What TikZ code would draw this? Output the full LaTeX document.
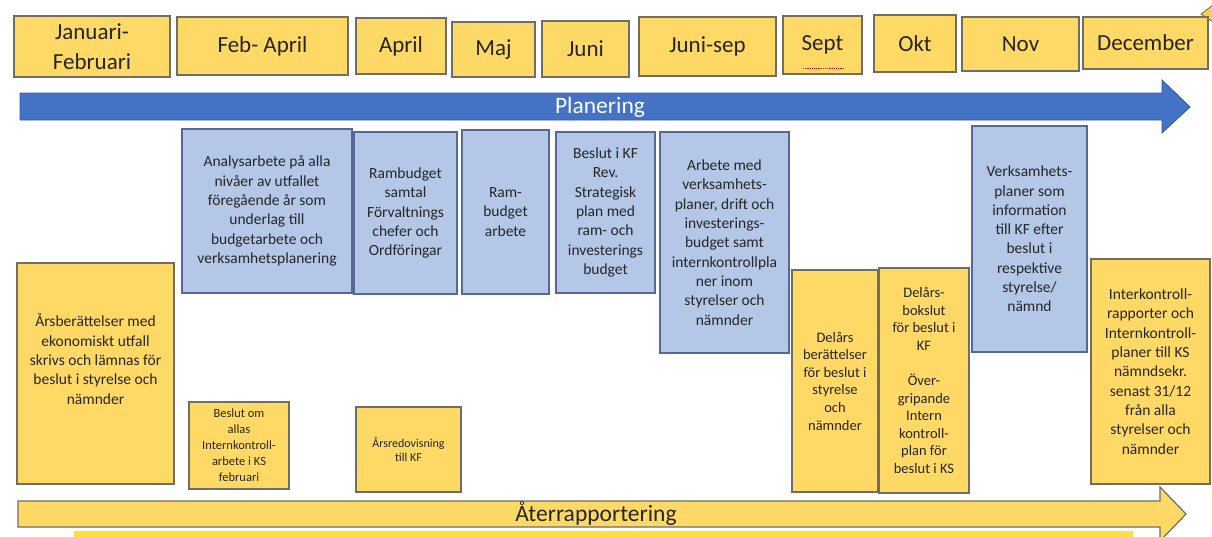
\documentclass[tikz,border=0pt]{standalone}
\usepackage{fontspec}
\setmainfont{Carlito}
\definecolor{gold}{HTML}{FFD966}
\definecolor{ybord}{HTML}{6E6E66}
\definecolor{lblue}{HTML}{B4C7E7}
\definecolor{bbord}{HTML}{52699A}
\definecolor{pblue}{HTML}{4472C4}
\definecolor{txt}{HTML}{262626}
\definecolor{stripy}{HTML}{FFE040}
\begin{document}
\begin{tikzpicture}[x=1pt,y=-1pt,
  box/.style={draw, line width=1.5pt, align=center, inner sep=2pt, text=txt},
  mbox/.style={box, fill=gold, draw=ybord, font=\fontsize{23}{30}\selectfont},
  bbox/.style={box, fill=lblue, draw=bbord, font=\fontsize{15.5}{19.3}\selectfont},
  ybox/.style={box, fill=gold, draw=ybord, font=\fontsize{15.5}{19.3}\selectfont},
  ysmall/.style={box, fill=gold, draw=ybord, font=\fontsize{14.5}{17.6}\selectfont},
  arrowtext/.style={inner sep=0pt, font=\fontsize{23.5}{28}\selectfont}
]
\useasboundingbox (0,0) rectangle (1212,536);
\fill[white] (0,0) rectangle (1212,536);
\clip (0,0) rectangle (1212,536);

% top-right corner mark
\filldraw[fill=gold!85!orange, draw=ybord, line width=0.8pt] (1201,14) -- (1213,5) -- (1213,22) -- cycle;

% month boxes
\node[mbox, minimum width=156pt, minimum height=61pt] (jan) at (92,46.5) {Januari-\\Februari};
\node[mbox, minimum width=171pt, minimum height=58pt] (feb) at (262.5,46) {Feb- April};
\node[mbox, minimum width=90pt, minimum height=56pt] (apr) at (401,46) {April};
\node[mbox, minimum width=83pt, minimum height=55pt] (maj) at (493.5,49.5) {Maj};
\node[mbox, minimum width=87pt, minimum height=56pt] (jun) at (585.5,49) {Juni};
\node[mbox, minimum width=137pt, minimum height=59pt] (junsep) at (707.5,46.5) {Juni-sep};
\node[mbox, minimum width=79pt, minimum height=58pt] (sep) at (822.5,45) {Sept};
\node[mbox, minimum width=82pt, minimum height=57pt] (okt) at (915,43.5) {Okt};
\node[mbox, minimum width=117pt, minimum height=54pt] (nov) at (1020.5,44) {Nov};
\node[mbox, minimum width=125pt, minimum height=52pt] (dec) at (1145.5,43) {December};
\draw[red!85!black, densely dotted, line width=1.2pt] (803,68.5) -- (843,68.5);

% Planering arrow
\filldraw[fill=pblue, draw=pblue!80!black, line width=0.8pt]
  (20,93) -- (1162,93) -- (1162,80) -- (1190,107) -- (1162,133) -- (1162,120) -- (20,120) -- cycle;
\node[arrowtext, text=white] (plan) at (600,107) {Planering};

% blue boxes
\node[bbox, minimum width=170pt, minimum height=164pt] (ana) at (267,211)
  {Analysarbete på alla\\nivåer av utfallet\\föregående år som\\underlag till\\budgetarbete och\\verksamhetsplanering};
\node[bbox, minimum width=103pt, minimum height=162pt] (rams) at (405.5,213)
  {Rambudget\\samtal\\Förvaltnings\\chefer och\\Ordföringar};
\node[bbox, minimum width=87pt, minimum height=164pt] (rama) at (505.5,212)
  {Ram-\\budget\\arbete};
\node[bbox, minimum width=99pt, minimum height=161pt] (besl) at (605.5,212.5)
  {Beslut i KF\\Rev.\\Strategisk\\plan med\\ram- och\\investerings\\budget};
\node[bbox, minimum width=129pt, minimum height=221pt] (arb) at (724.5,242.5)
  {Arbete med\\verksamhets-\\planer, drift och\\investerings-\\budget samt\\internkontrollpla\\ner inom\\styrelser och\\nämnder};
\node[bbox, minimum width=115pt, minimum height=226pt] (verk) at (1029.5,239)
  {Verksamhets-\\planer som\\information\\till KF efter\\beslut i\\respektive\\styrelse/\\nämnd};

% yellow boxes
\node[ybox, minimum width=157pt, minimum height=221pt] (arsb) at (95.5,373.5)
  {Årsberättelser med\\ekonomiskt utfall\\skrivs och lämnas för\\beslut i styrelse och\\nämnder\\[10pt]};
\node[box, fill=gold, draw=ybord, font=\fontsize{12.5}{16}\selectfont, minimum width=100pt, minimum height=87pt] (allas) at (239,445.5)
  {Beslut om\\allas\\Internkontroll-\\arbete i KS\\februari};
\node[box, fill=gold, draw=ybord, font=\fontsize{12}{13.5}\selectfont, minimum width=105pt, minimum height=85pt] (arsr) at (408.5,449.5)
  {Årsredovisning\\till KF};
\node[ysmall, minimum width=86pt, minimum height=222pt] (delb) at (835,381)
  {Delårs\\berättelser\\för beslut i\\styrelse\\och\\nämnder};
\node[ysmall, minimum width=90pt, minimum height=225pt] (delk) at (924,380.5)
  {Delårs-\\bokslut\\för beslut i\\KF\\[17.6pt]Över-\\gripande\\Intern\\kontroll-\\plan för\\beslut i KS};
\node[ybox, minimum width=119pt, minimum height=225pt] (intk) at (1150.5,371.5)
  {Interkontroll-\\rapporter och\\Internkontroll-\\planer till KS\\nämndsekr.\\senast 31/12\\från alla\\styrelser och\\nämnder};

% Aterrapportering arrow
\filldraw[fill=gold, draw=ybord, line width=1.2pt]
  (18,501) -- (1160,501) -- (1160,487) -- (1186,514) -- (1160,541) -- (1160,527) -- (18,527) -- cycle;
\node[arrowtext, text=txt] (ater) at (596,514) {Återrapportering};

% bottom strip
\fill[stripy] (74,531) rectangle (1133,540);
\end{tikzpicture}
\end{document}
